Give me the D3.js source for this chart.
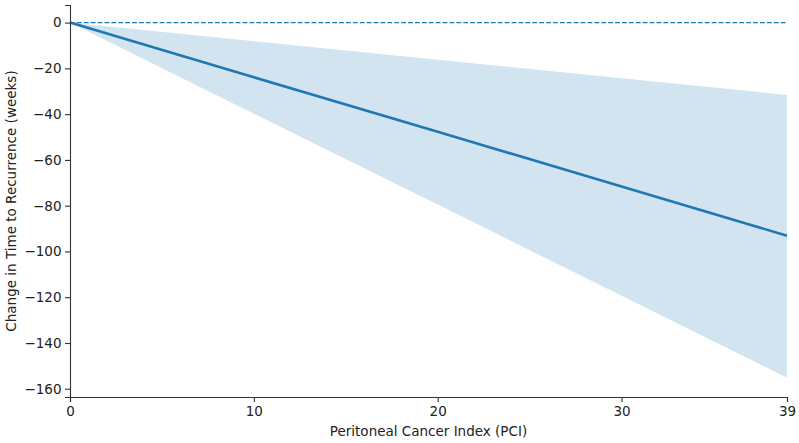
<!DOCTYPE html>
<html>
<head>
<meta charset="utf-8">
<script src="https://cdn.jsdelivr.net/npm/d3@7"></script>
<style>
  body { margin: 0; background: #fff; }
  text { font-family: "DejaVu Sans", sans-serif; }
</style>
</head>
<body>
<div id="chart"></div>
<script>
// values
const pci = [0, 10, 20, 30, 39];
const effect = [0, -23.9, -47.7, -71.6, -93.1];
const upper = [0, -8.1, -16.2, -24.3, -31.6];
const lower = [0, -39.8, -79.5, -119.3, -155.2];
const xTicks = [0, 10, 20, 30, 39];
const yTicks = [0, -20, -40, -60, -80, -100, -120, -140, -160];

const width = 799, height = 443;
const margin = { top: 5, right: 12, bottom: 46, left: 70 };
const fs = '13.5px';

const svg = d3.select('#chart').append('svg')
  .attr('width', width)
  .attr('height', height);

const x = d3.scaleLinear().domain([0, 39]).range([margin.left, width - margin.right]);
const y = d3.scaleLinear().domain([-163.6, 7.7]).range([height - margin.bottom, margin.top]);

const rows = pci.map((p, i) => ({ p, e: effect[i], hi: upper[i], lo: lower[i] }));

// confidence band
svg.append('path')
  .datum(rows)
  .attr('fill', '#1f77b4')
  .attr('fill-opacity', 0.2)
  .attr('d', d3.area().x(d => x(d.p)).y0(d => y(d.lo)).y1(d => y(d.hi)));

// zero reference line
svg.append('line')
  .attr('x1', x(0)).attr('x2', x(39))
  .attr('y1', y(0)).attr('y2', y(0))
  .attr('stroke', '#1f77b4')
  .attr('stroke-width', 1.3)
  .attr('stroke-dasharray', '4.8,2.1');

// fitted line
svg.append('path')
  .datum(rows)
  .attr('fill', 'none')
  .attr('stroke', '#1f77b4')
  .attr('stroke-width', 2.6)
  .attr('d', d3.line().x(d => x(d.p)).y(d => y(d.e)));

// axes
const xAxis = svg.append('g')
  .attr('transform', `translate(0,${height - margin.bottom})`)
  .call(d3.axisBottom(x).tickValues(xTicks).tickSize(5).tickPadding(4).tickFormat(d3.format('d')));
const yAxis = svg.append('g')
  .attr('transform', `translate(${margin.left},0)`)
  .call(d3.axisLeft(y).tickValues(yTicks).tickSize(5).tickPadding(3.5).tickFormat(d => d < 0 ? '\u2212' + Math.abs(d) : d));

[xAxis, yAxis].forEach(g => {
  g.selectAll('.domain').attr('stroke', '#333').attr('stroke-width', 1.1);
  g.selectAll('.tick line').attr('stroke', '#333').attr('stroke-width', 1.1);
  g.selectAll('.tick text').attr('fill', '#222').style('font-size', fs);
});

// axis labels
svg.append('text')
  .attr('x', (x(0) + x(39)) / 2)
  .attr('y', 436)
  .attr('text-anchor', 'middle')
  .attr('fill', '#222')
  .style('font-size', fs)
  .text('Peritoneal Cancer Index (PCI)');

svg.append('text')
  .attr('transform', `translate(16,${(y(-163.6) + y(7.7)) / 2}) rotate(-90)`)
  .attr('text-anchor', 'middle')
  .attr('fill', '#222')
  .style('font-size', fs)
  .text('Change in Time to Recurrence (weeks)');
</script>
</body>
</html>
